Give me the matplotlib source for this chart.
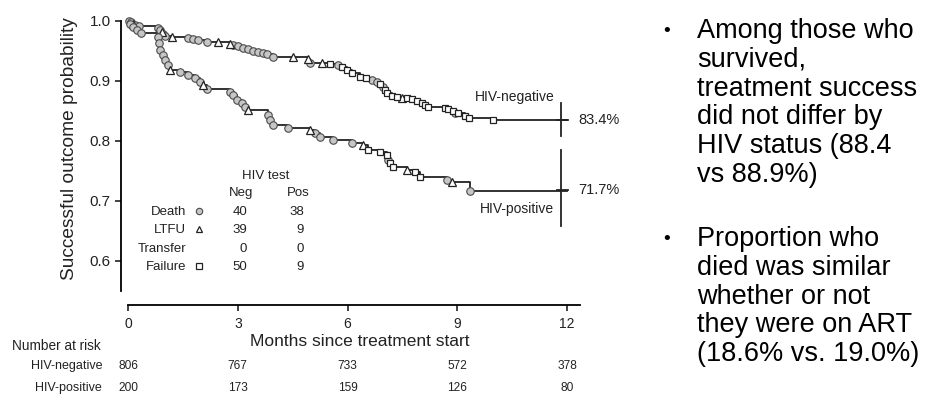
import matplotlib
matplotlib.use("Agg")
import matplotlib.pyplot as plt
from matplotlib.lines import Line2D
from matplotlib.transforms import blended_transform_factory

plt.rcParams['font.family'] = ['Liberation Sans', 'DejaVu Sans']

# HIV-negative: event times (months), outcome probability after event, event type
neg_t = [0.02, 0.08, 0.14, 0.20, 0.30, 0.82, 0.87, 0.92, 0.96, 1.01, 1.20, 1.64, 1.78, 1.91,
         2.16, 2.46, 2.79, 2.87, 3.01, 3.14, 3.28, 3.42, 3.55, 3.69, 3.80, 3.96, 4.51, 4.92,
         4.97, 5.30, 5.52, 5.74, 5.85, 5.98, 6.12, 6.34, 6.50, 6.67, 6.80, 6.89, 6.97, 7.03,
         7.08, 7.21, 7.35, 7.49, 7.62, 7.76, 7.90, 8.03, 8.12, 8.20, 8.66, 8.74, 8.88, 8.93,
         9.02, 9.21, 9.32, 9.97]
neg_p = [0.999, 0.997, 0.995, 0.993, 0.991, 0.988, 0.985, 0.982, 0.978, 0.975, 0.973, 0.971,
         0.970, 0.968, 0.965, 0.964, 0.962, 0.960, 0.958, 0.955, 0.953, 0.950, 0.948, 0.946,
         0.944, 0.940, 0.939, 0.936, 0.930, 0.929, 0.928, 0.926, 0.922, 0.918, 0.913, 0.906,
         0.904, 0.901, 0.897, 0.894, 0.889, 0.884, 0.880, 0.874, 0.873, 0.872, 0.871, 0.870,
         0.866, 0.863, 0.860, 0.856, 0.855, 0.853, 0.850, 0.846, 0.846, 0.841, 0.838, 0.834]
neg_e = list("cctcccctcctccc" "cttccccccccctt" "ctscsssssccscs" "ssstsssssssssc" "ssss")

# HIV-positive
pos_t = [0.05, 0.15, 0.25, 0.35, 0.82, 0.85, 0.87, 0.96, 1.01, 1.09, 1.15, 1.42, 1.64, 1.83,
         1.97, 2.05, 2.16, 2.79, 2.87, 2.98, 3.11, 3.20, 3.28, 3.83, 3.88, 3.96, 4.37, 4.97,
         5.11, 5.25, 5.60, 6.12, 6.42, 6.56, 6.89, 7.08, 7.10, 7.16, 7.24, 7.62, 7.84, 7.98,
         8.72, 8.85, 9.34]
pos_p = [0.995, 0.990, 0.985, 0.980, 0.973, 0.963, 0.951, 0.943, 0.935, 0.926, 0.918, 0.915,
         0.910, 0.905, 0.898, 0.893, 0.886, 0.881, 0.876, 0.868, 0.863, 0.856, 0.851, 0.843,
         0.834, 0.826, 0.821, 0.818, 0.812, 0.806, 0.801, 0.796, 0.792, 0.785, 0.781, 0.776,
         0.768, 0.762, 0.756, 0.751, 0.748, 0.740, 0.734, 0.731, 0.717]
pos_e = list("cccccccccctccc" "ctcccccctcccct" "cccctssscsstss" "ctc")

neg_final = 83.4
pos_final = 71.7

xticks = [0, 3, 6, 9, 12]
yticks = [0.6, 0.7, 0.8, 0.9, 1.0]
risk_neg = [806, 767, 733, 572, 378]
risk_pos = [200, 173, 159, 126, 80]

tbl_rows = ["Death", "LTFU", "Transfer", "Failure"]
tbl_marks = ["c", "t", None, "s"]
tbl_neg = [40, 39, 0, 50]
tbl_pos = [38, 9, 0, 9]

bullet1 = ["Among those who", "survived,", "treatment success", "did not differ by",
           "HIV status (88.4", "vs 88.9%)"]
bullet2 = ["Proportion who", "died was similar", "whether or not", "they were on ART",
           "(18.6% vs. 19.0%)"]

W, H = 936, 394
def fx(px):
    return px / W
def fy(py):
    return 1 - py / H

mstyle = {
    "c": dict(marker="o", ms=5.4, mfc="#c6c6c6", mec="#4a4a4a", mew=0.8),
    "t": dict(marker="^", ms=5.4, mfc="white", mec="#222222", mew=0.9),
    "s": dict(marker="s", ms=4.8, mfc="white", mec="#222222", mew=0.9),
}
ink = "#222222"

fig = plt.figure(figsize=(W / 100, H / 100), dpi=100)
# x: 0 months at px 128, 36.6 px/month; y: 1.0 at px 20.7, 600 px per unit
x0, y0 = 128, 20.7
ax = fig.add_axes([fx(121), fy(305), (603.8 - 121) / W, (305 - 2) / H])
ax.set_xlim(-7 / 36.6, 13.0)
ax.set_ylim(1 - (305 - y0) / 600, 1 + (y0 - 2) / 600)

for t, p, ev in [(neg_t, neg_p, neg_e), (pos_t, pos_p, pos_e)]:
    xs = [0] + t + [12.0]
    ys = [1.0] + p + [p[-1]]
    ax.step(xs, ys, where="post", color=ink, lw=1.3, zorder=2)
    for k in "cts":
        idx = [i for i, e in enumerate(ev) if e == k]
        ax.plot([t[i] for i in idx], [p[i] for i in idx], ls="none", zorder=3,
                clip_on=False, **mstyle[k])

# end-of-curve markers
vx = 11.82
ax.plot([vx, vx], [0.808, 0.863], color=ink, lw=1.3)
ax.plot([vx, vx], [0.657, 0.784], color=ink, lw=1.3)
ax.plot([11.72, 12.02], [neg_final / 100] * 2, color=ink, lw=1.3)
ax.plot([11.72, 12.02], [pos_final / 100] * 2, color=ink, lw=1.3)
ax.text(12.3, neg_final / 100, f"{neg_final}%", fontsize=10.5, va="center", ha="left", color=ink)
ax.text(12.3, pos_final / 100, f"{pos_final}%", fontsize=10.5, va="center", ha="left", color=ink)
fig.text(fx(555), fy(97), "HIV-negative", fontsize=10, ha="right", va="center", color=ink)
fig.text(fx(554), fy(209), "HIV-positive", fontsize=10, ha="right", va="center", color=ink)

for s in ["top", "right"]:
    ax.spines[s].set_visible(False)
ax.spines["left"].set_bounds(0.55, 1.0)
ax.spines["bottom"].set_bounds(0, 12.35)
ax.spines["left"].set_linewidth(1.3)
ax.spines["bottom"].set_linewidth(1.3)
ax.set_xticks(xticks)
ax.set_yticks(yticks)
ax.set_yticklabels([f"{v:.1f}" for v in yticks], fontsize=11, color=ink)
ax.set_xticklabels([str(v) for v in xticks], fontsize=10, color=ink)
ax.tick_params(axis="both", direction="out", length=4.5, width=1.2, colors=ink)
ax.tick_params(axis="x", pad=4.5)
ax.tick_params(axis="y", pad=3)

fig.text(fx(70), fy(149), "Successful outcome probability", rotation=90, fontsize=13.8,
         ha="center", va="center", color=ink)
fig.text(fx(360), fy(341), "Months since treatment start", fontsize=12.5, ha="center",
         va="center", color=ink)

# event table
fig.text(fx(266), fy(176), "HIV test", fontsize=9.5, ha="center", va="center", color=ink)
fig.text(fx(241), fy(193), "Neg", fontsize=9.5, ha="center", va="center", color=ink)
fig.text(fx(298), fy(193), "Pos", fontsize=9.5, ha="center", va="center", color=ink)
row_y = [212, 230, 249, 267]
for name, mk, n, p, yy in zip(tbl_rows, tbl_marks, tbl_neg, tbl_pos, row_y):
    fig.text(fx(186), fy(yy), name, fontsize=9.5, ha="right", va="center", color=ink)
    fig.text(fx(247), fy(yy), str(n), fontsize=9.5, ha="right", va="center", color=ink)
    fig.text(fx(304), fy(yy), str(p), fontsize=9.5, ha="right", va="center", color=ink)
    if mk:
        st = dict(mstyle[mk])
        st["ms"] = st["ms"] * 0.85
        fig.add_artist(Line2D([fx(199)], [fy(yy - 1)], ls="none", transform=fig.transFigure, **st))

# number at risk
tr = blended_transform_factory(ax.transData, fig.transFigure)
fig.text(fx(12), fy(346), "Number at risk", fontsize=9.8, ha="left", va="center", color=ink)
fig.text(fx(102), fy(366), "HIV-negative", fontsize=9, ha="right", va="center", color=ink)
fig.text(fx(102), fy(388), "HIV-positive", fontsize=9, ha="right", va="center", color=ink)
for xt, a, b in zip(xticks, risk_neg, risk_pos):
    ax.text(xt, fy(366), str(a), transform=tr, fontsize=8.6, ha="center", va="center", color=ink)
    ax.text(xt, fy(388), str(b), transform=tr, fontsize=8.6, ha="center", va="center", color=ink)

# bullet text
for block, ystart in [(bullet1, 31), (bullet2, 239)]:
    fig.text(fx(663), fy(ystart), "\u2022", fontsize=14, ha="left", va="center", color="black")
    for i, line in enumerate(block):
        fig.text(fx(697), fy(ystart + 28.8 * i), line, fontsize=19.5, ha="left", va="center",
                 color="black")

fig.savefig("out.png", dpi=100)
